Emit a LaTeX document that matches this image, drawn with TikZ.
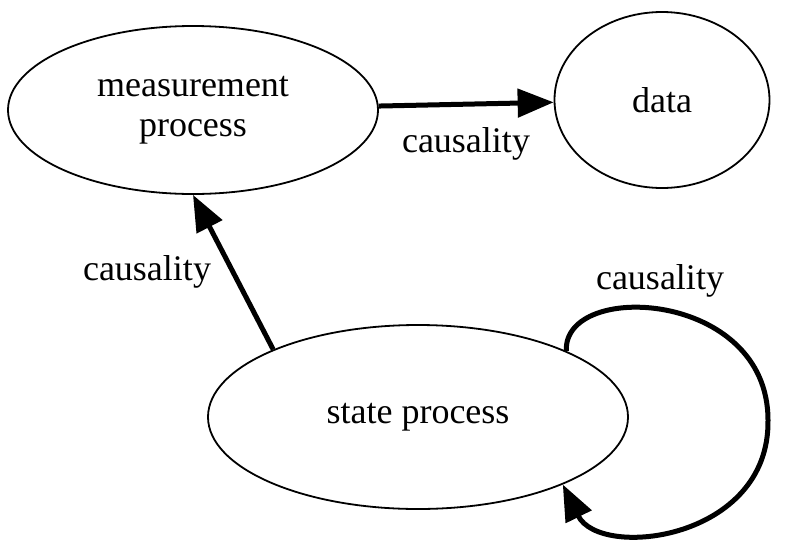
\documentclass[tikz,border=0pt]{standalone}
\usepackage{fontspec}
\setmainfont{Liberation Serif}
\usetikzlibrary{shapes.geometric,arrows.meta}
\begin{document}
\begin{tikzpicture}[x=1pt,y=-1pt,
  proc/.style={ellipse,draw,line width=1.8pt,inner sep=0pt,align=center,
    font=\fontsize{36}{40}\selectfont},
  causal/.style={line width=5pt,-{Triangle[length=36pt,width=28pt]}},
  lbl/.style={inner sep=0pt,font=\fontsize{36}{40}\selectfont}]
\useasboundingbox (0,0) rectangle (788,539);
\node[proc,minimum width=370pt,minimum height=168pt] (mp) at (193,110) {measurement\\process};
\node[proc,minimum width=215pt,minimum height=176pt] (data) at (662,100) {data};
\node[proc,minimum width=420pt,minimum height=184pt] (sp) at (418,417) {state process};
% edges
\draw[causal] (mp) -- (data);
\draw[causal] (sp.155) -- (mp.south);
\draw[causal] (sp.24) .. controls (563,280) and (768,290) .. (768,420)
  .. controls (770,540) and (600,560) .. (sp.-25);
% labels
\node[lbl] (l1) at (466,144) {causality};
\node[lbl] (l2) at (147,272) {causality};
\node[lbl] (l3) at (660,281) {causality};
\end{tikzpicture}
\end{document}
